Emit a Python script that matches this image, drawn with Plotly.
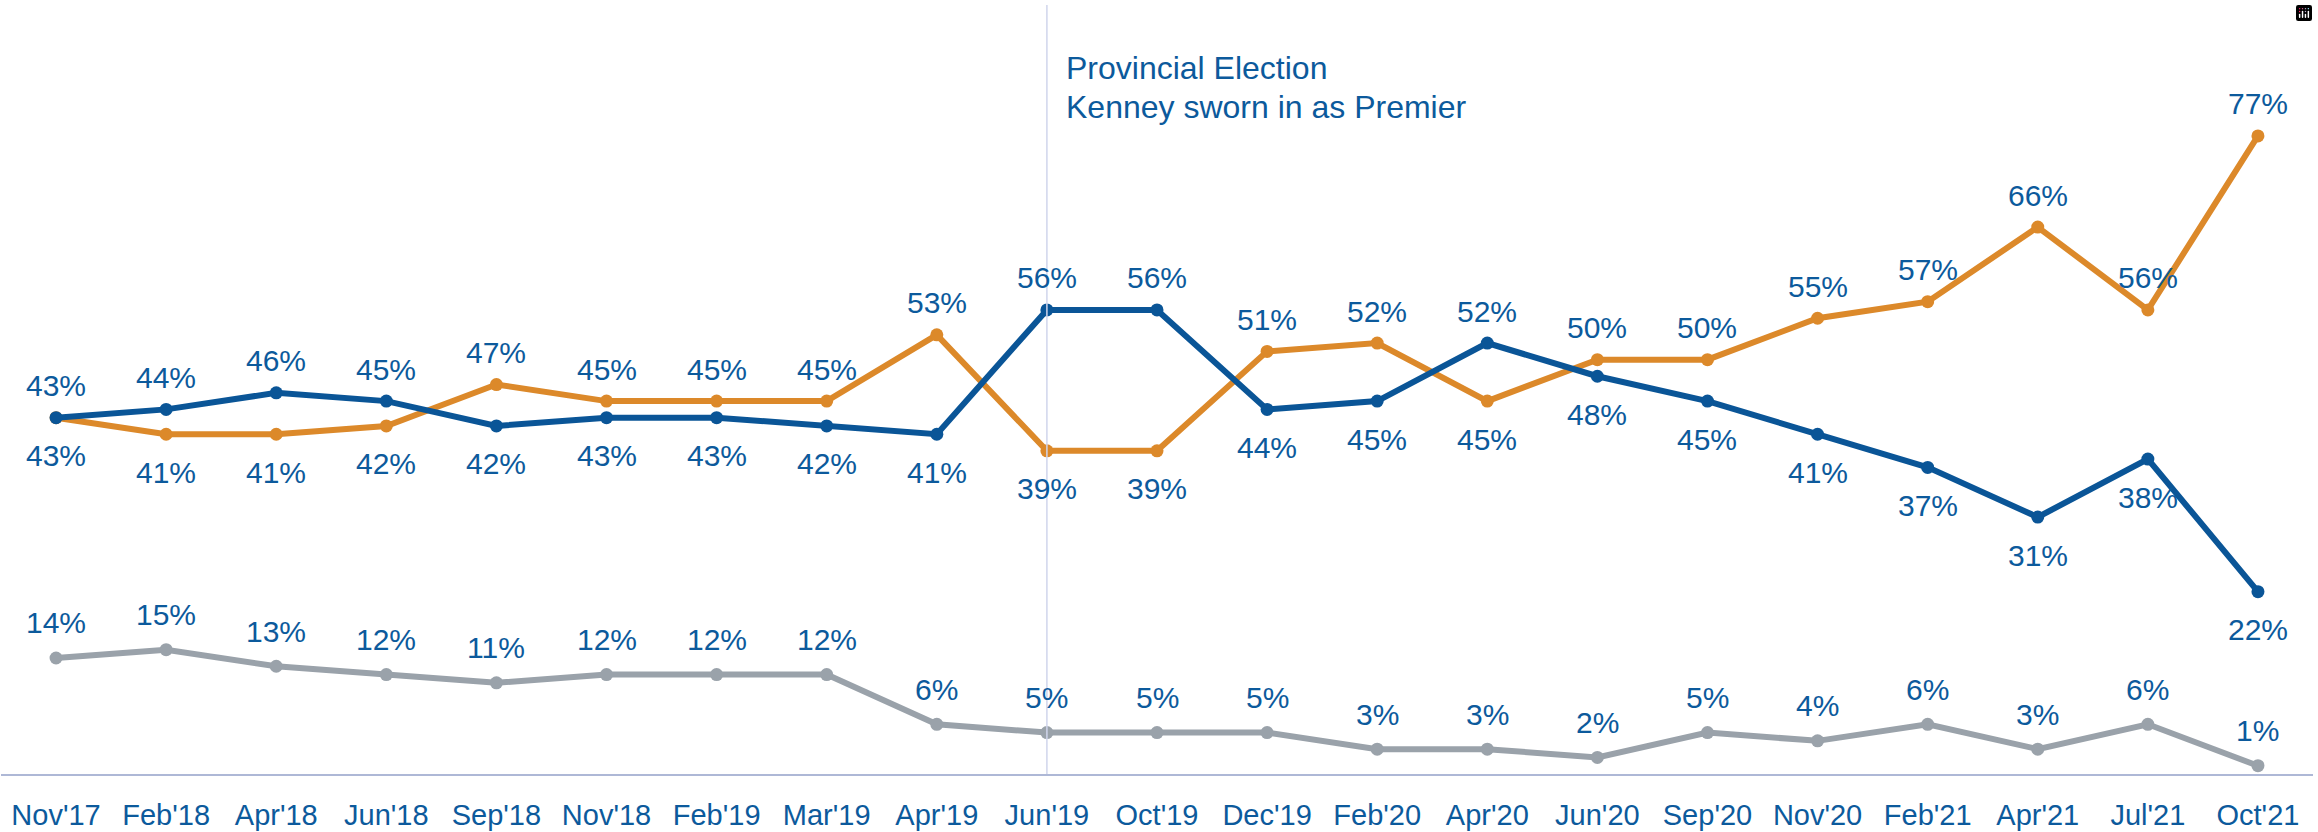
import plotly.graph_objects as go

months = ["Nov'17", "Feb'18", "Apr'18", "Jun'18", "Sep'18", "Nov'18", "Feb'19", "Mar'19",
          "Apr'19", "Jun'19", "Oct'19", "Dec'19", "Feb'20", "Apr'20", "Jun'20", "Sep'20",
          "Nov'20", "Feb'21", "Apr'21", "Jul'21", "Oct'21"]
blue_vals = [43, 44, 46, 45, 42, 43, 43, 42, 41, 56, 56, 44, 45, 52, 48, 45, 41, 37, 31, 38, 22]
orange_vals = [43, 41, 41, 42, 47, 45, 45, 45, 53, 39, 39, 51, 52, 45, 50, 50, 55, 57, 66, 56, 77]
grey_vals = [14, 15, 13, 12, 11, 12, 12, 12, 6, 5, 5, 5, 3, 3, 2, 5, 4, 6, 3, 6, 1]
event_month = "Jun'19"
event_lines = ["Provincial Election", "Kenney sworn in as Premier"]

BLUE = "#0a5597"
ORANGE = "#dc892a"
GREY = "#9aa2aa"
TEXT = "#0c5a9c"
FONT = "Liberation Sans, Arial, sans-serif"

fig = go.Figure()
x = list(range(len(months)))
for vals, col in [(grey_vals, GREY), (orange_vals, ORANGE), (blue_vals, BLUE)]:
    fig.add_trace(go.Scatter(x=x, y=vals, mode="lines+markers",
                             line=dict(color=col, width=6),
                             marker=dict(color=col, size=13),
                             hoverinfo="skip", showlegend=False))

annotations = []
for i in x:
    b, o, g = blue_vals[i], orange_vals[i], grey_vals[i]
    if b >= o:
        top, bot = b, o
    else:
        top, bot = o, b
    for v, shift in [(top, 32), (bot, -38), (g, 35)]:
        annotations.append(dict(x=i, y=v, text=f"{v}%", showarrow=False,
                                xref="x", yref="y", yshift=shift,
                                font=dict(family=FONT, size=30, color=TEXT)))

ev = months.index(event_month)
for k, line in enumerate(event_lines):
    annotations.append(dict(x=ev, y=1, xref="x", yref="paper", xshift=17,
                            yshift=-63 - 39 * k,
                            text=line, showarrow=False, xanchor="left", yanchor="middle",
                            align="left", font=dict(family=FONT, size=32, color=TEXT)))

fig.add_shape(type="line", x0=ev, x1=ev, xref="x", y0=0, y1=1, yref="paper",
              line=dict(color="#d0d5ec", width=1.5))

fig.update_layout(
    width=2318, height=832,
    margin=dict(l=1, r=5, t=5, b=53),
    paper_bgcolor="white", plot_bgcolor="white",
    annotations=annotations,
    modebar=dict(bgcolor="rgba(0,0,0,0)", color="rgba(0,0,0,0)",
                 activecolor="rgba(0,0,0,0)"),
    xaxis=dict(range=[-0.5, len(months) - 0.5], tickvals=x, ticktext=months,
               showgrid=False, zeroline=False, showline=True, linecolor="#aeb8d6",
               linewidth=1.5, ticks="", ticklabelstandoff=14,
               tickfont=dict(family=FONT, size=29, color=TEXT)),
    yaxis=dict(range=[0, 92.8], visible=False, showgrid=False, zeroline=False),
)

fig.write_html("out.html",
               post_script="document.body.style.margin='0';document.body.style.overflow='hidden';")
